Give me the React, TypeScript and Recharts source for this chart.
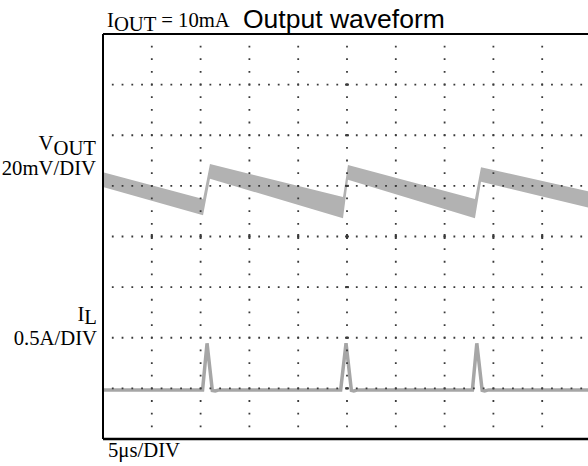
import { Area, ComposedChart, Line, ReferenceLine, XAxis, YAxis } from "recharts";

// horizontal axis: time in µs (5µs/DIV, 10 divisions)
// vertical axis: screen divisions (8 divisions, counted from the bottom)
const timeDivs = [0, 5, 10, 15, 20, 25, 30, 35, 40, 45, 50];
const levelDivs = [0, 1, 2, 3, 4, 5, 6, 7, 8];
const centerTime = 25;
const centerLevel = 4;

// VOUT trace (noisy band, upper and lower edge)
const vTime = [0, 10.25, 10.96, 24.59, 25.1, 38.11, 38.73, 50];
const vTop = [5.27, 4.74, 5.43, 4.78, 5.41, 4.74, 5.37, 4.88];
const vBottom = [4.98, 4.42, 5.14, 4.36, 5.12, 4.36, 5.08, 4.56];

// IL trace
const iTime = [0, 10.2, 10.66, 11.2, 11.5, 11.9, 24.35, 24.9, 25.45, 25.7, 26.1, 37.85, 38.3, 38.85, 39.1, 39.5, 50];
const iLevel = [0.97, 0.97, 1.89, 0.96, 0.95, 0.97, 0.97, 1.89, 0.96, 0.95, 0.97, 0.97, 1.89, 0.96, 0.95, 0.97, 0.97];

const vData = vTime.map((t, i) => ({ t, band: [vBottom[i], vTop[i]] }));
const iData = iTime.map((t, i) => ({ t, il: iLevel[i] }));

const serif = "'Liberation Serif', 'Times New Roman', serif";
const sans = "'Liberation Sans', Arial, sans-serif";
const gridColor = "#3a3a3a";

export default function App() {
  return (
    <div
      style={{
        position: "absolute",
        left: 0,
        top: 0,
        width: 588,
        height: 466,
        overflow: "hidden",
        background: "#fff"
      }}
    >
      <ComposedChart
        width={600}
        height={466}
        margin={{ top: 34, right: 9, bottom: 27, left: 103 }}
        style={{ position: "absolute", left: 0, top: 0 }}
      >
        <XAxis type="number" dataKey="t" domain={[0, 50]} ticks={timeDivs} hide allowDataOverflow />
        <YAxis type="number" domain={[0, 8]} ticks={levelDivs} hide allowDataOverflow />
        <Area
          data={vData}
          dataKey="band"
          type="linear"
          stroke="none"
          fill="#b2b2b2"
          fillOpacity={1}
          isAnimationActive={false}
        />
        <Line
          data={iData}
          dataKey="il"
          type="linear"
          stroke="#a6a6a6"
          strokeWidth={3.5}
          dot={false}
          isAnimationActive={false}
        />
        {timeDivs.slice(1, -1).map((t) => (
          <ReferenceLine
            key={`vx-${t}`}
            x={t}
            stroke={gridColor}
            strokeWidth={1.8}
            strokeDasharray="1.8 10.86"
            strokeDashoffset={0.9}
            zIndex={1500}
          />
        ))}
        {levelDivs.slice(1, -1).map((v) => (
          <ReferenceLine
            key={`hy-${v}`}
            y={v}
            stroke={gridColor}
            strokeWidth={1.8}
            strokeDasharray="1.8 7.96"
            strokeDashoffset={0.9}
            zIndex={1500}
          />
        ))}
        {/* heavier marks on the centre lines */}
        {timeDivs.slice(1, -1).map((t) => (
          <ReferenceLine
            key={`cx-${t}`}
            segment={[
              { x: t, y: centerLevel - 0.05 },
              { x: t, y: centerLevel + 0.05 }
            ]}
            stroke={gridColor}
            strokeWidth={2}
            zIndex={1500}
          />
        ))}
        {levelDivs.slice(1, -1).map((v) => (
          <ReferenceLine
            key={`cy-${v}`}
            segment={[
              { x: centerTime - 0.2, y: v },
              { x: centerTime + 0.2, y: v }
            ]}
            stroke={gridColor}
            strokeWidth={2}
            zIndex={1500}
          />
        ))}
        <ReferenceLine x={0} stroke="#000" strokeWidth={2} zIndex={1600} />
        <ReferenceLine y={8} stroke="#000" strokeWidth={2} zIndex={1600} />
        <ReferenceLine y={0} stroke="#000" strokeWidth={2.5} zIndex={1600} />
      </ComposedChart>
      <svg
        width={588}
        height={466}
        style={{ position: "absolute", left: 0, top: 0, pointerEvents: "none" }}
      >
        <text x={107} y={27} fontFamily={serif} fontSize={20.7} fill="#000">
          I<tspan dy={4}>OUT</tspan>
          <tspan dy={-4}> = 10mA</tspan>
        </text>
        <text x={243} y={28} fontFamily={sans} fontSize={26.5} fill="#000">
          Output waveform
        </text>
        <text textAnchor="end" fontFamily={serif} fontSize={20.7} fill="#000">
          <tspan x={96} y={150}>V</tspan>
          <tspan dy={5}>OUT</tspan>
          <tspan x={96} y={175}>20mV/DIV</tspan>
        </text>
        <text textAnchor="end" fontFamily={serif} fontSize={20.7} fill="#000">
          <tspan x={97} y={320.5}>I</tspan>
          <tspan dy={3}>L</tspan>
          <tspan x={97} y={344.5}>0.5A/DIV</tspan>
        </text>
        <text x={108} y={456.5} fontFamily={serif} fontSize={20.7} fill="#000">
          5μs/DIV
        </text>
      </svg>
    </div>
  );
}
